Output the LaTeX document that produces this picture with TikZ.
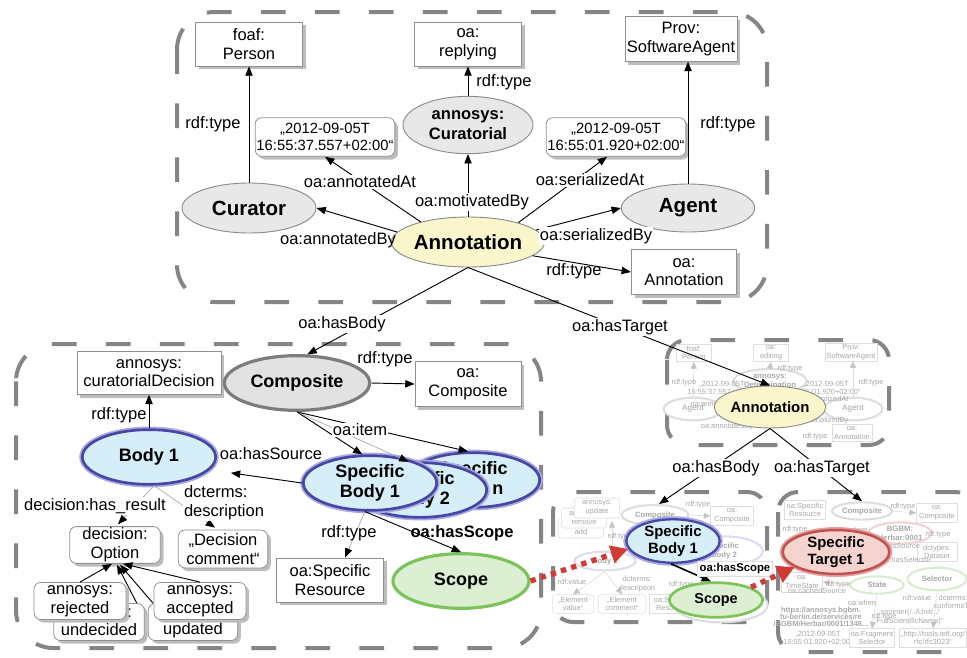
\documentclass[tikz,border=0pt]{standalone}
\usepackage{fontspec}
\setmainfont{Liberation Sans}
\usetikzlibrary{shapes.geometric,arrows.meta,shadows,calc}

\definecolor{framegray}{HTML}{858585}
\definecolor{ellgray}{HTML}{E8E8E8}
\definecolor{elledge}{HTML}{8C8C8C}
\definecolor{compedge}{HTML}{7C7C7C}
\definecolor{compfill}{HTML}{E2E2E2}
\definecolor{annofill}{HTML}{F8F6CA}
\definecolor{bluefill}{HTML}{D6EEF8}
\definecolor{blueedge}{HTML}{4646A6}
\definecolor{bluehalo}{HTML}{A9A9DD}
\definecolor{greenfill}{HTML}{DCEFD2}
\definecolor{greenedge}{HTML}{7CC35C}
\definecolor{pinkfill}{HTML}{F5D3CE}
\definecolor{pinkedge}{HTML}{C0504D}
\definecolor{pinkhalo}{HTML}{E3A09C}
\definecolor{reddots}{HTML}{D23A36}
\definecolor{boxedge}{HTML}{909090}
\definecolor{shadowgray}{HTML}{BDBDBD}
\definecolor{thinline}{HTML}{A8A8A8}
\definecolor{fadetext}{HTML}{A8A8A8}
\definecolor{fadeedge}{HTML}{DEDEDE}
\definecolor{fadehead}{HTML}{C4C4C4}
\definecolor{fadeblue}{HTML}{DCDCF2}
\definecolor{fadegreen}{HTML}{D8EDD0}
\definecolor{fadepink}{HTML}{F0D4D2}

\tikzset{
  lab/.style={font=\fontsize{12.4}{14}\selectfont, inner sep=1pt, align=center},
  labw/.style={lab, fill=white},
  dashframe/.style={draw=framegray, line width=3pt, dash pattern=on 18.5pt off 22pt, rounded corners=28pt},
  smallframe/.style={dashframe, rounded corners=15pt},
  tbox/.style={rectangle, draw=boxedge, line width=0.6pt, fill=white, align=center, inner sep=1pt,
    font=\fontsize{12.4}{14}\selectfont,
    drop shadow={shadow xshift=2.4pt, shadow yshift=-2.4pt, fill=shadowgray, opacity=1}},
  rbox/.style={tbox, rounded corners=5pt},
  gell/.style={ellipse, draw=elledge, line width=0.7pt, fill=ellgray, inner sep=0pt, align=center,
    font=\fontsize{15.4}{17}\selectfont\bfseries},
  cell/.style={ellipse, inner sep=0pt, align=center, font=\fontsize{13.5}{15.5}\selectfont\bfseries,
    minimum width=100pt, minimum height=41pt},
  blueell/.style={cell, fill=bluefill, draw=blueedge, line width=2pt, preaction={draw=bluehalo, line width=4.6pt}},
  greenell/.style={cell, fill=greenfill, draw=greenedge, line width=2.4pt},
  compell/.style={cell, fill=compfill, draw=compedge, line width=2.4pt},
  pinkell/.style={cell, fill=pinkfill, draw=pinkedge, line width=2pt, preaction={draw=pinkhalo, line width=4.4pt}},
  arr/.style={draw=black, line width=0.7pt, -{Triangle[length=7pt,width=5.5pt]}},
  thinarr/.style={draw=thinline, line width=0.5pt, -{Triangle[length=7pt,width=5.5pt,color=black,fill=black]}},
  redarr/.style={draw=reddots, line width=4pt, dash pattern=on 4pt off 4pt, -{Triangle[length=13pt,width=13pt]}},
  fadebox/.style={rectangle, draw=fadeedge, line width=0.4pt, fill=white, align=center, inner sep=1pt,
    text=fadetext, font=\fontsize{5.6}{6.4}\selectfont},
  faderbox/.style={fadebox, rounded corners=2pt},
  flab/.style={inner sep=0.5pt, align=center, text=fadetext, font=\fontsize{5.6}{6.4}\selectfont},
  fadeell/.style={ellipse, draw=fadeedge, line width=1.6pt, fill=white, inner sep=0pt, align=center,
    text=fadetext, font=\fontsize{5.8}{6.6}\selectfont\bfseries},
  farr/.style={draw=fadeedge, line width=0.5pt, -{Triangle[length=5pt,width=4.5pt,color=fadehead,fill=fadehead]}},
}

\begin{document}
\begin{tikzpicture}[x=0.75pt,y=-0.75pt]
\useasboundingbox (0,0) rectangle (967,657);

% dashed group frames
\draw[dashframe] (177,12) rectangle (767,302);
\draw[dashframe] (16,344) rectangle (541,648);
\draw[smallframe] (667,340) rectangle (889,445);
\draw[smallframe] (553,492) rectangle (767,622);
\draw[smallframe] (778,492) rectangle (975,652);

% ---------- faded content, small group 1 ----------
\node[fadebox, minimum width=26pt, minimum height=13pt] (a1) at (694,353) {foaf:\\Person};
\node[fadebox, minimum width=26pt, minimum height=13pt] (a2) at (771,353) {oa:\\editing};
\node[fadebox, minimum width=34pt, minimum height=13pt] (a3) at (851,352) {Prov:\\SoftwareAgent};
\node[fadeell, minimum width=46pt, minimum height=18pt] (a4) at (770,381) {annosys:\\Determination};
\node[flab] (a5) at (722,388) {„2012-09-05T\\16:55:37.557+02:00“};
\node[flab] (a6) at (826,388) {„2012-09-05T\\16:55:01.920+02:00“};
\node[fadeell, minimum width=44pt, minimum height=17pt, font=\fontsize{6.2}{7}\selectfont] (a7) at (693,409) {Agent};
\node[fadeell, minimum width=44pt, minimum height=17pt, font=\fontsize{6.2}{7}\selectfont] (a8) at (853,409) {Agent};
\node[fadebox, minimum width=30pt, minimum height=13pt] (a9) at (852,433) {oa:\\Annotation};
\draw[farr] (a7.north) -- (a1.south);
\draw[farr] (a8.north) -- (a8.north |- a3.south);
\draw[farr] (a4.north) -- (a2.south);
\draw[farr] (a7.east) -- (a8.west);
\node[flab] (a10) at (684,383) {rdf:type};
\node[flab] (a11) at (790,369) {rdf:type};
\node[flab] (a12) at (871,383) {rdf:type};
\node[flab] (a13) at (727,427) {oa:annotatedBy};
\node[flab] (a14) at (716,404) {oa:annotatedAt};
\node[flab] (a15) at (824,399) {oa:serializedAt};
\node[flab] (a16) at (823,421) {oa:serializedBy};
\node[flab] (a17) at (815,437) {rdf:type};

% ---------- faded content, small group 2 ----------
\node[faderbox, minimum width=34pt, minimum height=15pt] (b1) at (581,528) {annosys:\\add};
\node[faderbox, minimum width=34pt, minimum height=15pt] (b2) at (584,518) {annosys:\\remove};
\node[faderbox, minimum width=34pt, minimum height=15pt] (b3) at (597,508) {annosys:\\update};
\node[fadeell, minimum width=50pt, minimum height=15pt] (b4) at (655,515) {Composite};
\node[fadebox, minimum width=32pt, minimum height=14pt] (b5) at (732,516) {oa:\\Composite};
\node[fadeell, draw=fadeblue, minimum width=46pt, minimum height=14pt] (b6) at (605,561) {Body 1};
\node[fadeell, draw=fadeblue, minimum width=58pt, minimum height=22pt] (b7) at (724,551) {Specific\\Body 2};
\node[faderbox, minimum width=31pt, minimum height=14pt] (b8) at (573,604) {„Element\\value“};
\node[faderbox, minimum width=36pt, minimum height=14pt] (b9) at (622,604) {„Element\\comment“};
\node[fadebox, minimum width=34pt, minimum height=14pt] (b10) at (672,604) {oa:Specific\\Resource};
\draw[farr] (b4.east) -- (b5.west);
\draw[farr] (612,553) -- (612,521);
\draw[farr] (b6.south) -- (b8.north);
\draw[farr] (b6.south) -- (b9.north);
\node[flab] (b11) at (698,505) {rdf:type};
\node[flab] (b12) at (620,537) {rdf:type};
\node[flab] (b13) at (572,582) {rdf:value};
\node[flab] (b14) at (637,584) {dcterms:\\description};
\node[flab] (b15) at (681,585) {rdf:type};
\node[fadeell, minimum width=70pt, minimum height=26pt] (b16) at (721,605) {};

% ---------- faded content, small group 3 ----------
\node[fadebox, minimum width=31pt, minimum height=14pt] (c1) at (805,510) {oa:Specific\\Resource};
\node[fadeell, minimum width=45pt, minimum height=13pt] (c2) at (862,511) {Composite};
\node[fadebox, minimum width=31pt, minimum height=14pt] (c3) at (937,513) {oa:\\Composite};
\node[fadeell, draw=fadepink, minimum width=36pt, minimum height=16pt] (c4) at (900,533) {BGBM:\\Herbar:0001};
\node[fadebox, minimum width=30pt, minimum height=14pt] (c5) at (937,552) {dctypes:\\Dataset};
\node[fadebox, minimum width=31pt, minimum height=15pt] (c6) at (802,582) {oa:\\TimeState};
\node[fadeell, draw=fadegreen, minimum width=40pt, minimum height=13pt] (c7) at (877,585) {State};
\node[fadeell, draw=fadegreen, minimum width=44pt, minimum height=17pt] (c8) at (937,579) {Selector};
\node[flab, font=\fontsize{5.6}{5.3}\selectfont\bfseries] (c9) at (821,617) {https://annosys.bgbm.\\fu-berlin.de/services/re\\/BGBM/Herbar/0001/1348...};
\node[flab] (c10) at (818,638) {„2012-09-05T\\16:55:01.920+02:00“};
\node[fadebox, minimum width=32pt, minimum height=14pt] (c11) at (872,638) {oa:Fragment\\Selector};
\node[flab] (c12) at (910,617) {xpointer(/../Unit/../\\FullScientificName)“};
\node[fadebox, minimum width=42pt, minimum height=14pt] (c13) at (933,638) {„http://tools.ietf.org/\\rfc/rfc3023“};
\draw[farr] (c2.east) -- (c3.west);
\draw[farr] (c7.west) -- (c6.east);
\draw[farr] (c8.south) -- (c13.north);
\draw[farr] (c7.south) -- (c11.north);
\node[flab] (c14) at (903,507) {rdf:type};
\node[flab] (c15) at (795,530) {rdf:type};
\node[flab] (c16) at (855,530) {oa:item};
\node[flab] (c17) at (938,535) {rdf:type};
\node[flab] (c18) at (897,546) {oa:hasSource};
\node[flab] (c19) at (906,560) {oa:hasSelector};
\node[flab] (c20) at (838,585) {rdf:type};
\node[flab] (c21) at (817,591) {oa:cachedSource};
\node[flab] (c22) at (862,603) {oa:when};
\node[flab] (c23) at (884,617) {rdf:type};
\node[flab] (c24) at (917,598) {rdf:value};
\node[flab] (c25) at (953,602) {dcterms:\\conformsTo};

% ---------- coloured nodes of the small groups ----------
\node[gell, fill=annofill, minimum width=75pt, minimum height=31.5pt, font=\fontsize{11.2}{13}\selectfont\bfseries] (minianno) at (770,407) {Annotation};
\node[blueell, minimum width=70pt, minimum height=25.5pt, line width=1.7pt, preaction={draw=bluehalo, line width=3.6pt}, font=\fontsize{11.2}{12.6}\selectfont\bfseries] (msb1) at (673,541) {Specific\\Body 1};
\node[greenell, minimum width=70pt, minimum height=26pt, line width=2pt, font=\fontsize{10.8}{12}\selectfont\bfseries] (mscope) at (716,600) {Scope};
\node[pinkell, minimum width=80pt, minimum height=31.5pt, line width=1.8pt, preaction={draw=pinkhalo, line width=3.8pt}, font=\fontsize{11.2}{12.8}\selectfont\bfseries] (mtarget) at (836,552) {Specific\\Target 1};

% ---------- upper group ----------
\node[tbox, minimum width=80pt, minimum height=33pt] (person) at (249,44) {foaf:\\Person};
\node[tbox, minimum width=80pt, minimum height=33pt] (replying) at (468,44) {oa:\\replying};
\node[tbox, minimum width=84pt, minimum height=33.5pt] (swagent) at (681,39) {Prov:\\SoftwareAgent};
\node[gell, minimum width=97.5pt, minimum height=43pt, font=\fontsize{12.4}{14.5}\selectfont\bfseries] (curatorial) at (468,125) {annosys:\\Curatorial};
\node[rbox, minimum width=103.5pt, minimum height=29pt, font=\fontsize{11.1}{13.2}\selectfont] (date1) at (325,137) {„2012-09-05T\\16:55:37.557+02:00“};
\node[rbox, minimum width=103.5pt, minimum height=29pt, font=\fontsize{11.1}{13.2}\selectfont] (date2) at (616,137) {„2012-09-05T\\16:55:01.920+02:00“};
\node[gell, minimum width=100.5pt, minimum height=37.5pt] (curator) at (249,208) {Curator};
\node[gell, minimum width=100pt, minimum height=36pt] (agent) at (688,208) {Agent};
\node[gell, fill=annofill, minimum width=99pt, minimum height=37.5pt] (anno) at (468,242) {Annotation};
\node[tbox, minimum width=79pt, minimum height=34pt] (oaanno) at (684,272) {oa:\\Annotation};

% ---------- lower left group ----------
\node[tbox, minimum width=108pt, minimum height=32pt] (cdec) at (149,373) {annosys:\\curatorialDecision};
\node[compell, minimum width=109pt, minimum height=41pt] (composite) at (297,383) {Composite};
\node[tbox, minimum width=79.5pt, minimum height=34pt] (oacomp) at (468,384) {oa:\\Composite};
\node[blueell] (body1) at (149,457) {Body 1};
\node[blueell] (sbn) at (473,480) {Specific\\Body n};
\node[blueell] (sb2) at (420,490) {Specific\\Body 2};
\node[blueell] (sb1) at (370,483) {Specific\\Body 1};
\node[rbox, minimum width=68pt, minimum height=27pt] (option) at (115,545) {decision:\\Option};
\node[rbox, minimum width=67pt, minimum height=28.5pt] (comment) at (223,549) {„Decision\\comment“};
\node[tbox, minimum width=80pt, minimum height=33pt] (sres) at (330,580) {oa:Specific\\Resource};
\node[greenell, minimum width=102pt] (scope) at (461,581) {Scope};
\node[rbox, minimum width=68pt, minimum height=27.75pt] (undecided) at (99,622) {annosys:\\undecided};
\node[rbox, minimum width=69pt, minimum height=27.75pt] (rejected) at (80,601) {annosys:\\rejected};
\node[rbox, minimum width=67pt, minimum height=27.75pt] (updated) at (193,622) {annosys:\\updated};
\node[rbox, minimum width=69pt, minimum height=27.75pt] (accepted) at (200,601) {annosys:\\accepted};

% ---------- connectors, upper group ----------
\draw[arr] (curator.north) -- (curator.north |- person.south);
\draw[arr] (agent.north) -- (agent.north |- swagent.south);
\draw[arr] (curatorial.north) -- (curatorial.north |- replying.south);
\draw[arr] (anno.north) -- (curatorial.south);
\draw[arr] (anno.157) -- (date1.south);
\draw[arr] (anno.21) -- ($(date2.south)+(-9,0)$);
\draw[arr] (anno.172) -- (curator.east);
\draw[arr] (anno.10) -- (agent.west);
\draw[arr] (anno.-12) -- (oaanno.west);
\draw[arr] (anno.south) -- (composite.70);
\draw[arr] (anno.south) -- (minianno.north);

% ---------- connectors, lower left group ----------
\draw[arr] (composite.east) -- (oacomp.west);
\draw[arr] (body1.north) -- (body1.north |- cdec.south);
\draw[arr] (composite.south) -- (sb1.105);
\draw[thinarr] (composite.south) -- (sb2.112);
\draw[arr] (composite.south) -- (sbn.100);
\draw[arr, shorten >=16pt] (sb1.west) -- (body1.-12);
\draw[thinarr] (body1.-80) -- ($(option.north)+(3,-2)$);
\draw[thinarr] (body1.-80) -- ($(comment.north)+(-8,-2)$);
\draw[thinarr] (sb1.-100) -- ($(sres.north)+(15,0)$);
\draw[arr] (sb1.-100) -- (scope.north);
\draw[arr] (rejected.north) -- ($(option.south)+(-3,0)$);
\draw[arr] ($(undecided.north east)+(-8,0)$) -- ($(option.south)+(2,1)$);
\draw[arr] ($(updated.north west)+(5,0)$) -- ($(option.south)+(5,1)$);
\draw[arr] (accepted.north) -- ($(option.south)+(8,0)$);

% ---------- connectors, small groups ----------
\draw[arr] (minianno.south) -- (b4.70);
\draw[arr] (minianno.south) -- (c2.north);
\draw[arr, line width=1.2pt] (msb1.-95) -- (mscope.105);

% ---------- edge labels ----------
\node[lab] (t1) at (213,124) {rdf:type};
\node[lab] (t2) at (504,82) {rdf:type};
\node[lab] (t3) at (728,124) {rdf:type};
\node[labw] (t4) at (360,182) {oa:annotatedAt};
\node[labw] (t5) at (472,202) {oa:motivatedBy};
\node[labw] (t6) at (590,180) {oa:serializedAt};
\node[lab] (t7) at (338,240) {oa:annotatedBy};
\node[labw] (t8) at (596,236) {oa:serializedBy};
\node[lab] (t9) at (574,271) {rdf:type};
\node[labw] (t10) at (342,324) {oa:hasBody};
\node[labw] (t11) at (620,327) {oa:hasTarget};
\node[lab] (t12) at (385,359) {rdf:type};
\node[lab] (t13) at (119,415) {rdf:type};
\node[lab] (t14) at (271,454) {oa:hasSource};
\node[labw] (t15) at (360,430) {oa:item};
\node[labw] (t16) at (95,506) {decision:has\_result};
\node[labw, align=left] (t17) at (224,503) {dcterms:\\description};
\node[lab] (t18) at (349,533) {rdf:type};
\node[lab, font=\fontsize{12.4}{14}\selectfont\bfseries] (t19) at (462,533) {oa:hasScope};
\node[labw] (t20) at (716,468) {oa:hasBody};
\node[labw] (t21) at (822,468) {oa:hasTarget};
\node[lab, fill=white, draw=fadeedge, inner sep=1.5pt, font=\fontsize{8.5}{10}\selectfont\bfseries] (t22) at (735,569) {oa:hasScope};

% ---------- dotted links between the groups ----------
\draw[redarr] (scope.east) -- (msb1.190);
\draw[redarr] (mscope.20) -- (mtarget.200);
\end{tikzpicture}
\end{document}
